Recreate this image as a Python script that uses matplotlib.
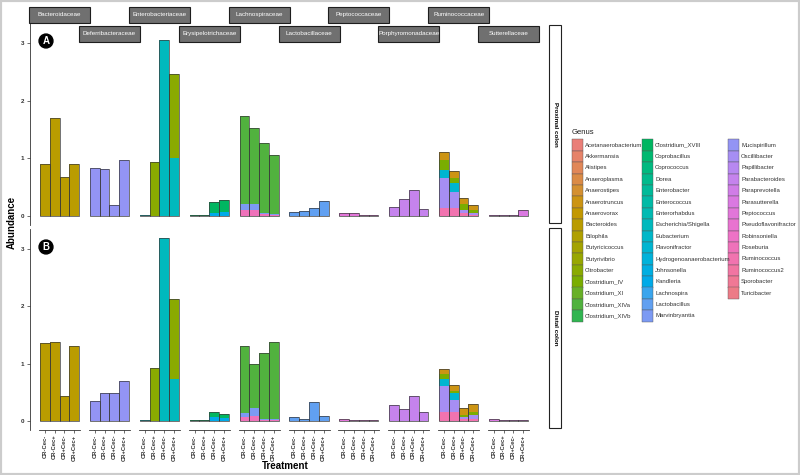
import numpy as np
import matplotlib
matplotlib.use('Agg')
import matplotlib.pyplot as plt
from matplotlib.patches import Rectangle

plt.rcParams['font.family'] = ['Liberation Sans', 'DejaVu Sans']

######################################################################
# Data
######################################################################

treatments = ["CR-Cec-", "CR-Cec+", "CR+Cec-", "CR+Cec+"]

families = ["Bacteroidaceae", "Deferribacteraceae", "Enterobacteriaceae",
            "Erysipelotrichaceae", "Lachnospiraceae", "Lactobacillaceae",
            "Peptococcaceae", "Porphyromonadaceae", "Ruminococcaceae",
            "Sutterellaceae"]

genera = ["Acetanaerobacterium", "Akkermansia", "Alistipes", "Anaeroplasma",
          "Anaerostipes", "Anaerotruncus", "Anaerovorax", "Bacteroides",
          "Bilophila", "Butyricicoccus", "Butyrivibrio", "Citrobacter",
          "Clostridium_IV", "Clostridium_XI", "Clostridium_XIVa", "Clostridium_XIVb",
          "Clostridium_XVIII", "Coprobacillus", "Coprococcus", "Dorea",
          "Enterobacter", "Enterococcus", "Enterorhabdus", "Escherichia/Shigella",
          "Eubacterium", "Flavonifractor", "Hydrogenoanaerobacterium", "Johnsonella",
          "Kandleria", "Lachnospira", "Lactobacillus", "Marvinbryantia",
          "Mucispirillum", "Oscillibacter", "Papillibacter", "Parabacteroides",
          "Paraprevotella", "Parasutterella", "Peptococcus", "Pseudoflavonifractor",
          "Robinsoniella", "Roseburia", "Ruminococcus", "Ruminococcus2",
          "Sporobacter", "Turicibacter"]

# Proximal colon, one dict per family: genus -> abundance per treatment
prox_bacteroidaceae = {"Bacteroides": [0.90, 1.70, 0.67, 0.90]}
prox_deferribacteraceae = {"Mucispirillum": [0.83, 0.82, 0.19, 0.97]}
prox_enterobacteriaceae = {"Citrobacter": [0.0, 0.93, 0.0, 1.47],
                           "Escherichia/Shigella": [0.02, 0.0, 3.06, 1.00]}
prox_erysipelotrichaceae = {"Clostridium_XVIII": [0.01, 0.01, 0.19, 0.22],
                            "Kandleria": [0.0, 0.0, 0.05, 0.06]}
prox_lachnospiraceae = {"Clostridium_XIVa": [1.53, 1.31, 1.23, 1.03],
                        "Marvinbryantia": [0.11, 0.11, 0.01, 0.01],
                        "Roseburia": [0.10, 0.10, 0.03, 0.02]}
prox_lactobacillaceae = {"Lactobacillus": [0.07, 0.09, 0.14, 0.26]}
prox_peptococcaceae = {"Peptococcus": [0.04, 0.04, 0.02, 0.02]}
prox_porphyromonadaceae = {"Parabacteroides": [0.16, 0.29, 0.44, 0.12]}
prox_ruminococcaceae = {"Anaerotruncus": [0.14, 0.12, 0.11, 0.08],
                        "Clostridium_IV": [0.17, 0.09, 0.10, 0.05],
                        "Flavonifractor": [0.14, 0.15, 0.0, 0.0],
                        "Oscillibacter": [0.53, 0.29, 0.06, 0.03],
                        "Ruminococcus": [0.13, 0.13, 0.04, 0.02]}
prox_sutterellaceae = {"Parasutterella": [0.01, 0.02, 0.02, 0.10]}

# Distal colon
dist_bacteroidaceae = {"Bacteroides": [1.36, 1.37, 0.44, 1.30]}
dist_deferribacteraceae = {"Mucispirillum": [0.34, 0.49, 0.48, 0.69]}
dist_enterobacteriaceae = {"Citrobacter": [0.0, 0.93, 0.0, 1.39],
                           "Escherichia/Shigella": [0.01, 0.0, 3.19, 0.73]}
dist_erysipelotrichaceae = {"Clostridium_XVIII": [0.01, 0.01, 0.09, 0.07],
                            "Kandleria": [0.0, 0.0, 0.07, 0.05]}
dist_lachnospiraceae = {"Clostridium_XIVa": [1.17, 0.78, 1.15, 1.35],
                        "Marvinbryantia": [0.08, 0.14, 0.01, 0.01],
                        "Roseburia": [0.06, 0.08, 0.02, 0.02]}
dist_lactobacillaceae = {"Lactobacillus": [0.06, 0.04, 0.33, 0.09]}
dist_peptococcaceae = {"Peptococcus": [0.04, 0.02, 0.01, 0.01]}
dist_porphyromonadaceae = {"Parabacteroides": [0.28, 0.20, 0.44, 0.15]}
dist_ruminococcaceae = {"Anaerotruncus": [0.09, 0.10, 0.11, 0.15],
                        "Clostridium_IV": [0.09, 0.03, 0.04, 0.05],
                        "Flavonifractor": [0.13, 0.12, 0.0, 0.0],
                        "Oscillibacter": [0.45, 0.21, 0.04, 0.06],
                        "Ruminococcus": [0.15, 0.16, 0.03, 0.04]}
dist_sutterellaceae = {"Parasutterella": [0.03, 0.02, 0.01, 0.01]}

proximal = [prox_bacteroidaceae, prox_deferribacteraceae, prox_enterobacteriaceae,
            prox_erysipelotrichaceae, prox_lachnospiraceae, prox_lactobacillaceae,
            prox_peptococcaceae, prox_porphyromonadaceae, prox_ruminococcaceae,
            prox_sutterellaceae]
distal = [dist_bacteroidaceae, dist_deferribacteraceae, dist_enterobacteriaceae,
          dist_erysipelotrichaceae, dist_lachnospiraceae, dist_lactobacillaceae,
          dist_peptococcaceae, dist_porphyromonadaceae, dist_ruminococcaceae,
          dist_sutterellaceae]

regions = ["Proximal colon", "Distal colon"]
panel_tags = ["A", "B"]


######################################################################
# Colours: ggplot2 style hue palette (hcl), slightly muted
######################################################################

def hcl_to_hex(h, c=80., l=65.):
    xn, yn, zn = 95.047, 100.0, 108.883
    un = 4 * xn / (xn + 15 * yn + 3 * zn)
    vn = 9 * yn / (xn + 15 * yn + 3 * zn)
    u = c * np.cos(np.radians(h))
    v = c * np.sin(np.radians(h))
    y = yn * ((l + 16) / 116) ** 3
    up = u / (13 * l) + un
    vp = v / (13 * l) + vn
    x = y * 9 * up / (4 * vp)
    z = y * (12 - 3 * up - 20 * vp) / (4 * vp)
    xyz = np.array([x, y, z]) / 100.
    m = np.array([[3.2404542, -1.5371385, -0.4985314],
                  [-0.9692660, 1.8760108, 0.0415560],
                  [0.0556434, -0.2040259, 1.0572252]])
    rgb = m.dot(xyz)
    rgb = np.where(rgb <= 0.0031308, 12.92 * rgb, 1.055 * np.abs(rgb) ** (1 / 2.4) - 0.055)
    rgb = np.clip(rgb, 0, 1)
    return matplotlib.colors.to_hex(rgb)


n = len(genera)
hues = np.linspace(15, 375, n + 1)[:n]
palette = {g: hcl_to_hex(h) for g, h in zip(genera, hues)}


######################################################################
# Layout (pixels of a 800x475 figure)
######################################################################

W, H = 800., 475.
fig = plt.figure(figsize=(8, 4.75), dpi=100)

def box(left, top, width, height):
    return [left / W, 1 - (top + height) / H, width / W, height / H]

row_top = [23, 229]
row_bot = [225, 430]
col_left0, col_step, col_w = 39., 49.9, 41.
ymin, ymax = -0.16, 3.35
x = np.arange(1, 5)

for r, data in enumerate([proximal, distal]):
    top, bot = row_top[r], row_bot[r]

    # shared y axis on the left
    ay = fig.add_axes(box(30, top, 1, bot - top))
    ay.set_ylim(ymin, ymax)
    ay.set_xticks([])
    for s in ['top', 'right', 'bottom']:
        ay.spines[s].set_visible(False)
    ay.spines['left'].set_linewidth(0.6)
    ay.spines['left'].set_color('#333333')
    ay.set_yticks([0, 1, 2, 3])
    ay.tick_params(axis='y', length=2, width=0.5, labelsize=4.5, pad=2, colors='#333333')
    for t in ay.get_yticklabels():
        t.set_fontweight('bold')
    ay.patch.set_visible(False)

    for j, fam in enumerate(families):
        ax = fig.add_axes(box(col_left0 + j * col_step, top, col_w, bot - top))
        ax.set_xlim(0.4, 4.6)
        ax.set_ylim(ymin, ymax)
        ax.patch.set_visible(False)
        for s in ['top', 'right', 'left']:
            ax.spines[s].set_visible(False)
        ax.set_yticks([])

        segs = data[j]
        # ggplot stacks later factor levels at the bottom
        order = sorted(segs.keys(), key=lambda g: genera.index(g), reverse=True)
        bottom = np.zeros(4)
        for g in order:
            vals = np.array(segs[g])
            ax.bar(x, vals, bottom=bottom, width=1, color=palette[g], linewidth=0)
            bottom = bottom + vals
        ax.bar(x, bottom, width=1, fill=False, edgecolor='#3a3a3a', linewidth=0.5)

        if r == 1:
            ax.spines['bottom'].set_linewidth(0.6)
            ax.spines['bottom'].set_color('#333333')
            ax.set_xticks(x)
            ax.set_xticklabels(treatments, rotation=90, fontsize=4.2, fontweight='bold')
            ax.tick_params(axis='x', length=2, width=0.5, pad=1.5, colors='#333333')
        else:
            ax.spines['bottom'].set_visible(False)
            ax.set_xticks([])

    # right-hand facet strip
    top_s, bot_s = [25, 228][r], [223, 428][r]
    fig.patches.append(Rectangle((549 / W, 1 - bot_s / H), 12 / W, (bot_s - top_s) / H,
                                 transform=fig.transFigure, facecolor='white',
                                 edgecolor='#222222', linewidth=0.8))
    fig.text(555 / W, 1 - (top_s + bot_s) / 2 / H, regions[r], rotation=270,
             ha='center', va='center', fontsize=4.5, fontweight='bold')

    # panel tag
    fig.text(46 / W, 1 - (top + 18) / H, panel_tags[r], color='white', fontsize=7,
             fontweight='bold', ha='center', va='center',
             bbox=dict(boxstyle='circle,pad=0.2', fc='black', ec='black'))

# family strips, staggered over two rows
for j, fam in enumerate(families):
    cx = col_left0 + j * col_step + col_w / 2
    top_s = 7 if j % 2 == 0 else 26
    fig.patches.append(Rectangle(((cx - 30.5) / W, 1 - (top_s + 15.5) / H), 61 / W, 15.5 / H,
                                 transform=fig.transFigure, facecolor='#707070',
                                 edgecolor='#1e1e1e', linewidth=0.8))
    fig.text(cx / W, 1 - (top_s + 7.75) / H, fam, color='white', fontsize=4.5,
             ha='center', va='center')

# axis titles
fig.text(12 / W, 1 - 222 / H, "Abundance", rotation=90, ha='center', va='center',
         fontsize=7, fontweight='bold')
fig.text(285 / W, 1 - 466 / H, "Treatment", ha='center', va='center',
         fontsize=7, fontweight='bold')

# legend
fig.text(572 / W, 1 - 133 / H, "Genus", ha='left', va='center', fontsize=5.5, color='#222222')
key_x = [572, 642, 728]
for i, g in enumerate(genera):
    col, row = i // 16, i % 16
    ktop = 139.3 + row * 11.4
    fig.patches.append(Rectangle((key_x[col] / W, 1 - (ktop + 11.4) / H), 10.5 / W, 11.4 / H,
                                 transform=fig.transFigure, facecolor=palette[g],
                                 edgecolor='#555555', linewidth=0.3))
    fig.text((key_x[col] + 13) / W, 1 - (ktop + 5.7) / H, g, ha='left', va='center',
             fontsize=4.3, color='#333333')

# light grey frame around the whole figure
fig.patches.append(Rectangle((0, 0), 1, 1, transform=fig.transFigure, fill=False,
                             edgecolor='#cccccc', linewidth=3))

fig.savefig('out.png', dpi=100)
